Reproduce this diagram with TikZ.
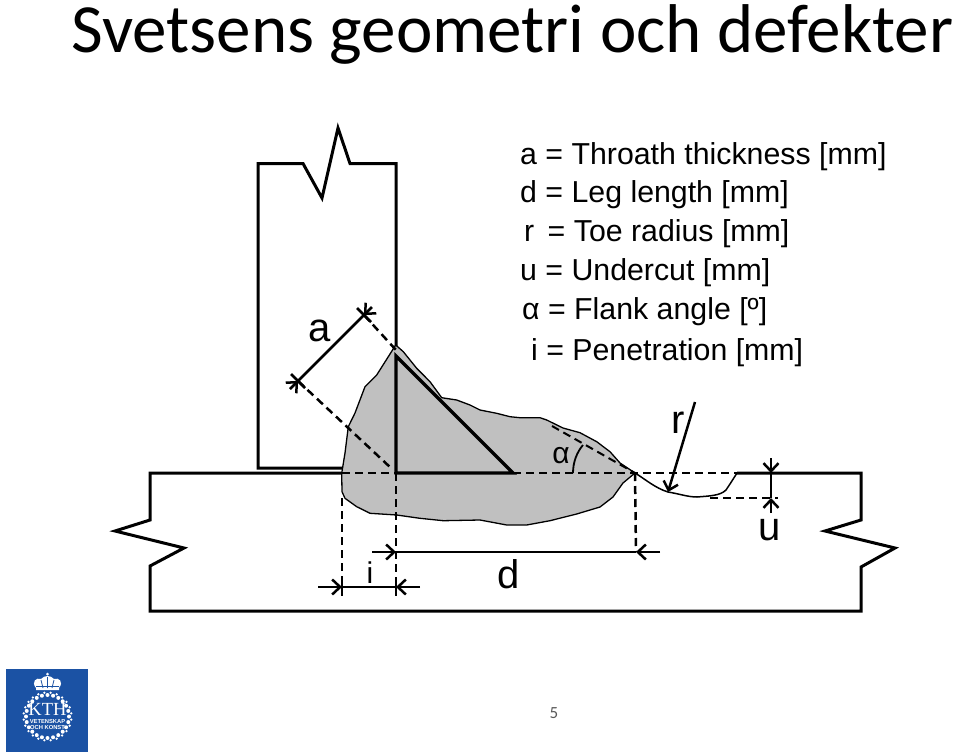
\documentclass[tikz,border=0pt]{standalone}
\usepackage{fontspec}
\setmainfont{Liberation Sans}
\newfontfamily\calibrilike{Carlito}
\newfontfamily\serifcap{Liberation Serif}
\usetikzlibrary{arrows.meta}
\definecolor{kthblue}{HTML}{1B52A4}
\definecolor{weldgray}{HTML}{C0C0C0}
\tikzset{
  outline/.style={line width=3pt,line join=miter},
  thick line/.style={line width=3.2pt},
  dashline/.style={line width=2.5pt,dash pattern=on 8pt off 5pt},
  dimline/.style={line width=2.5pt},
  dimarrow/.style={line width=2.5pt,-{Straight Barb[length=8pt,width=15pt,line width=2.5pt]}},
  legend/.style={anchor=base west,inner sep=0pt,font=\fontsize{30.3}{30}\selectfont},
  letter/.style={inner sep=0pt,font=\fontsize{40}{40}\selectfont},
  small letter/.style={inner sep=0pt,font=\fontsize{30}{30}\selectfont},
}
\begin{document}
\begin{tikzpicture}[x=1pt,y=-1pt]
\useasboundingbox (0,0) rectangle (959,753);
% title
\node[anchor=base west,inner sep=0pt,font=\calibrilike\fontsize{69}{69}\selectfont] (title) at (71,52) {Svetsens geometri och defekter};
% key points
\coordinate (root) at (396,473);
\coordinate (toe) at (635,473);
\coordinate (leftroot) at (342,473);
\coordinate (apex) at (396,356);
\coordinate (tip) at (513,473);
\coordinate (aA) at (298,381);
\coordinate (aB) at (364,315);
% vertical plate
\draw[outline] (343,468) -- (258,468) -- (258,163.5) -- (303,163.5) -- (322,198) -- (338,128) -- (350,163.5) -- (396,163.5) -- (396,346);
% base plate
\draw[outline] (342,473) -- (150,473) -- (150,520) -- (115,531) -- (184,548) -- (150,566) -- (150,611) -- (861,611) -- (861,567) -- (895,548) -- (825,531) -- (861,520) -- (861,473) -- (737,473);
% weld
\draw[fill=weldgray,line width=1.3pt] (395.7,345) -- (403.3,351.7) -- (416.7,368.3) -- (430,381.7) -- (441.7,397.7) -- (456.7,400) -- (470,405) -- (480,410) -- (496.7,413.3) -- (510,416.7) -- (520,417.7) -- (540,417.7) -- (546.7,420) -- (563,428) -- (580,432.7) -- (596.7,441.7) -- (610,451.7) -- (620,463) -- (toe) -- (623,483) -- (613,497) -- (600,507) -- (576.7,514) -- (550,520.7) -- (526.7,525) -- (506.7,525) -- (480,520) -- (443.3,520.7) -- (420,518.3) -- (396.7,515) -- (370,513.3) -- (356.7,506.7) -- (345,498.3) -- (342,491.7) -- (341.7,473.3) -- (345,453) -- (348.3,426.7) -- (355,413) -- (365,386.7) -- (376.7,375) -- cycle;
% undercut
\draw[line width=1.5pt] (toe) .. controls (645,479) and (655,488) .. (668,492) .. controls (680,494) and (688,497) .. (697,497) .. controls (708,496) and (720,496) .. (726,490) -- (730,484) -- (737,473);
% fillet triangle
\draw[thick line,line join=miter] (apex) -- (root) -- (tip) -- cycle;
% dashed construction lines
\draw[dashline] (leftroot) -- (root);
\draw[dashline] (tip) -- (737,473);
\draw[dashline] (342,498) -- (342,587);
\draw[dashline] (root) -- (396,592);
\draw[dashline] (toe) -- (636,552);
\draw[dashline] (aA) -- (391,468);
\draw[dashline] (aB) -- (396,350);
\draw[dashline,line width=2pt] (552,426) -- (toe);
\draw[dashline] (710,498) -- (778,498);
% throat dimension
\draw[dimline] (aA) -- (aB);
\draw[dimarrow] (290,389) -- (aA);
\draw[dimarrow] (372,307) -- (aB);
\draw[dimline] (291,374) -- (305,388);
\draw[dimline] (357,308) -- (371,322);
% leg dimension
\coordinate (dL) at (396,552);
\coordinate (dR) at (636,552);
\draw[dimline] (dL) -- (dR);
\draw[dimarrow] (372,552) -- (dL);
\draw[dimarrow] (660,552) -- (dR);
% penetration dimension
\coordinate (iL) at (342,587);
\coordinate (iR) at (396,587);
\draw[dimline] (iL) -- (iR);
\draw[dimarrow] (318,587) -- (iL);
\draw[dimarrow] (420,587) -- (iR);
\draw[dimline] (342,577) -- (342,596);
\draw[dimline] (396,577) -- (396,596);
% undercut dimension
\coordinate (uT) at (771,473);
\coordinate (uB) at (771,498);
\draw[dimline] (uT) -- (uB);
\draw[dimarrow] (771,458) -- (uT);
\draw[dimarrow] (771,513) -- (uB);
% radius pointer
\coordinate (rE) at (695,402);
\coordinate (rT) at (668,492);
\draw[dimarrow] (rE) -- (rT);
% flank angle arc
\draw[line width=1.8pt] (573,473) .. controls (573,462) and (577,452) .. (583,445);
% labels
\node[letter] (la) at (320,331) {a};
\node[letter] (lr) at (678,423) {r};
\node[letter] (lu) at (770,530) {u};
\node[letter] (ld) at (509,574) {d};
\node[small letter] (li) at (370,573) {i};
\node[small letter] (lalpha) at (561,456) {α};
% legend
\node[legend] (k1) at (520,164) {a = Throath thickness [mm]};
\node[legend] (k2) at (520,202) {d = Leg length [mm]};
\node[legend] (k3) at (524,241) {r\, = Toe radius [mm]};
\node[legend] (k4) at (520,280) {u = Undercut [mm]};
\node[legend] (k5) at (522,319) {α = Flank angle [º]};
\node[legend] (k6) at (531,360) {i = Penetration [mm]};
% page number
\node[inner sep=0pt,text=black!65,font=\calibrilike\fontsize{17}{17}\selectfont] (pg) at (554,713) {5};
% logo
\fill[kthblue] (6,669) rectangle (88,752);
\foreach \ang in {0,15,...,345}{
  \fill[white] (47.5,716.5) ++(\ang:21.5) circle (2pt);
  \fill[white] (47.5,716.5) ++(\ang+7.5:24) circle (1.3pt);
}
\fill[white] (36,690) -- (36,688) .. controls (31,682) and (36,677) .. (41,679) .. controls (43,677) and (45,676) .. (47.5,676) .. controls (50,676) and (52,677) .. (54,679) .. controls (59,677) and (64,682) .. (59,688) -- (59,690) -- cycle;
\draw[kthblue,line width=0.8pt] (47.5,677) -- (47.5,688) (41,680) -- (43,688) (54,680) -- (52,688) (36,686.5) -- (59,686.5);
\fill[white] (47.5,674) circle (1.5pt);
\fill[kthblue] (47.5,716.5) circle (19pt);
\node[inner sep=0pt,text=white,font=\serifcap\fontsize{18.5}{18.5}\selectfont] (kth) at (47.5,709) {KTH};
\node[inner sep=0pt,text=white,font=\bfseries\fontsize{5.8}{5.8}\selectfont] (k1l) at (47.5,721) {VETENSKAP};
\node[inner sep=0pt,text=white,font=\bfseries\fontsize{5.8}{5.8}\selectfont] (k2l) at (47.5,727.5) {OCH KONST};
\end{tikzpicture}
\end{document}
